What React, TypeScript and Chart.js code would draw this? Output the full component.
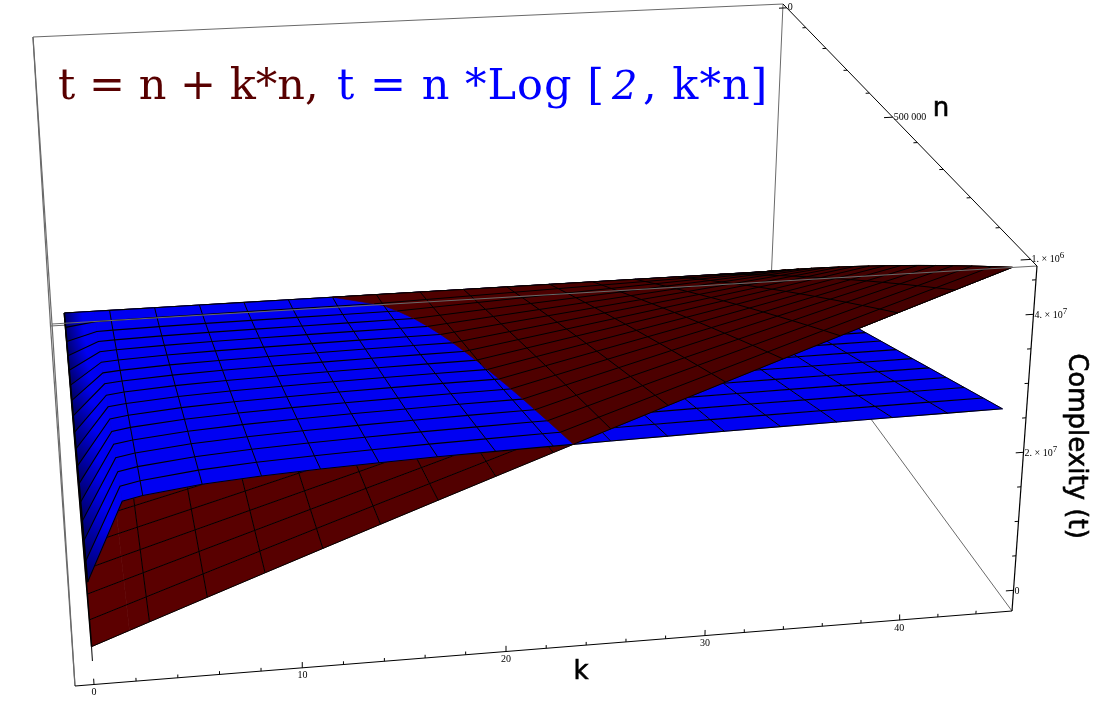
import React, { useEffect, useRef } from "react";
import { Chart, registerables } from "chart.js";

Chart.register(...registerables);

// ---- data (t in millions, n in millions) ----
const kGrid = [0.001, 1.84, 2.8125, 5.625, 8.4375, 11.25, 14.0625, 16.875, 19.6875, 22.5, 25.3125, 28.125, 30.9375, 33.75, 36.5625, 39.375, 42.1875, 45];
const nGrid = [0, 0.0625, 0.125, 0.1875, 0.25, 0.3125, 0.375, 0.4375, 0.5, 0.5625, 0.625, 0.6875, 0.75, 0.8125, 0.875, 0.9375, 1];

const redT = [
  [0, 0, 0, 0, 0, 0, 0, 0, 0, 0, 0, 0, 0, 0, 0, 0, 0, 0],
  [0.063, 0.178, 0.238, 0.414, 0.59, 0.766, 0.941, 1.117, 1.293, 1.469, 1.645, 1.82, 1.996, 2.172, 2.348, 2.523, 2.699, 2.875],
  [0.125, 0.355, 0.477, 0.828, 1.18, 1.531, 1.883, 2.234, 2.586, 2.938, 3.289, 3.641, 3.992, 4.344, 4.695, 5.047, 5.398, 5.75],
  [0.188, 0.533, 0.715, 1.242, 1.77, 2.297, 2.824, 3.352, 3.879, 4.406, 4.934, 5.461, 5.988, 6.516, 7.043, 7.57, 8.098, 8.625],
  [0.25, 0.71, 0.953, 1.656, 2.359, 3.063, 3.766, 4.469, 5.172, 5.875, 6.578, 7.281, 7.984, 8.688, 9.391, 10.094, 10.797, 11.5],
  [0.313, 0.888, 1.191, 2.07, 2.949, 3.828, 4.707, 5.586, 6.465, 7.344, 8.223, 9.102, 9.98, 10.859, 11.738, 12.617, 13.496, 14.375],
  [0.375, 1.065, 1.43, 2.484, 3.539, 4.594, 5.648, 6.703, 7.758, 8.813, 9.867, 10.922, 11.977, 13.031, 14.086, 15.141, 16.195, 17.25],
  [0.438, 1.243, 1.668, 2.898, 4.129, 5.359, 6.59, 7.82, 9.051, 10.281, 11.512, 12.742, 13.973, 15.203, 16.434, 17.664, 18.895, 20.125],
  [0.5, 1.42, 1.906, 3.313, 4.719, 6.125, 7.531, 8.938, 10.344, 11.75, 13.156, 14.563, 15.969, 17.375, 18.781, 20.188, 21.594, 23],
  [0.563, 1.598, 2.145, 3.727, 5.309, 6.891, 8.473, 10.055, 11.637, 13.219, 14.801, 16.383, 17.965, 19.547, 21.129, 22.711, 24.293, 25.875],
  [0.625, 1.775, 2.383, 4.141, 5.898, 7.656, 9.414, 11.172, 12.93, 14.688, 16.445, 18.203, 19.961, 21.719, 23.477, 25.234, 26.992, 28.75],
  [0.688, 1.953, 2.621, 4.555, 6.488, 8.422, 10.355, 12.289, 14.223, 16.156, 18.09, 20.023, 21.957, 23.891, 25.824, 27.758, 29.691, 31.625],
  [0.75, 2.13, 2.859, 4.969, 7.078, 9.188, 11.297, 13.406, 15.516, 17.625, 19.734, 21.844, 23.953, 26.063, 28.172, 30.281, 32.391, 34.5],
  [0.813, 2.308, 3.098, 5.383, 7.668, 9.953, 12.238, 14.523, 16.809, 19.094, 21.379, 23.664, 25.949, 28.234, 30.52, 32.805, 35.09, 37.375],
  [0.875, 2.485, 3.336, 5.797, 8.258, 10.719, 13.18, 15.641, 18.102, 20.563, 23.023, 25.484, 27.945, 30.406, 32.867, 35.328, 37.789, 40.25],
  [0.938, 2.663, 3.574, 6.211, 8.848, 11.484, 14.121, 16.758, 19.395, 22.031, 24.668, 27.305, 29.941, 32.578, 35.215, 37.852, 40.488, 43.125],
  [1, 2.84, 3.813, 6.625, 9.438, 12.25, 15.063, 17.875, 20.688, 23.5, 26.313, 29.125, 31.938, 34.75, 37.563, 40.375, 43.188, 46],
];

const blueT = [
  [0.001, 0.001, 0.001, 0.001, 0.001, 0.001, 0.001, 0, 0, 0, 0, 0, 0, 0, 0, 0, 0, 0],
  [0.373, 1.051, 1.089, 1.151, 1.188, 1.214, 1.234, 1.251, 1.264, 1.276, 1.287, 1.296, 1.305, 1.313, 1.32, 1.327, 1.333, 1.339],
  [0.87, 2.226, 2.303, 2.428, 2.501, 2.553, 2.593, 2.626, 2.654, 2.678, 2.699, 2.718, 2.735, 2.751, 2.765, 2.779, 2.791, 2.803],
  [1.416, 3.45, 3.564, 3.752, 3.863, 3.939, 3.999, 4.05, 4.091, 4.127, 4.159, 4.187, 4.213, 4.238, 4.258, 4.279, 4.298, 4.314],
  [1.99, 4.703, 4.855, 5.105, 5.253, 5.355, 5.435, 5.503, 5.558, 5.605, 5.648, 5.685, 5.72, 5.753, 5.78, 5.808, 5.833, 5.855],
  [2.588, 5.978, 6.169, 6.481, 6.666, 6.794, 6.894, 6.978, 7.047, 7.106, 7.159, 7.206, 7.25, 7.291, 7.325, 7.359, 7.391, 7.419],
  [3.206, 7.275, 7.504, 7.879, 8.1, 8.254, 8.374, 8.475, 8.558, 8.629, 8.693, 8.749, 8.801, 8.85, 8.891, 8.933, 8.97, 9.004],
  [3.837, 8.584, 8.851, 9.288, 9.546, 9.726, 9.866, 9.984, 10.08, 10.163, 10.238, 10.303, 10.364, 10.421, 10.469, 10.518, 10.561, 10.601],
  [4.48, 9.905, 10.21, 10.71, 11.005, 11.21, 11.37, 11.505, 11.615, 11.71, 11.795, 11.87, 11.94, 12.005, 12.06, 12.115, 12.165, 12.21],
  [5.136, 11.239, 11.582, 12.144, 12.476, 12.707, 12.887, 13.039, 13.163, 13.269, 13.365, 13.449, 13.528, 13.601, 13.663, 13.725, 13.781, 13.832],
  [5.8, 12.581, 12.963, 13.588, 13.956, 14.213, 14.413, 14.581, 14.719, 14.838, 14.944, 15.038, 15.125, 15.206, 15.275, 15.344, 15.406, 15.463],
  [6.476, 13.936, 14.355, 15.043, 15.448, 15.73, 15.95, 16.136, 16.287, 16.418, 16.534, 16.638, 16.734, 16.823, 16.899, 16.974, 17.043, 17.105],
  [7.163, 15.3, 15.758, 16.508, 16.95, 17.258, 17.498, 17.7, 17.865, 18.008, 18.135, 18.248, 18.353, 18.45, 18.533, 18.615, 18.69, 18.758],
  [7.849, 16.664, 17.16, 17.973, 18.452, 18.785, 19.045, 19.264, 19.443, 19.598, 19.736, 19.858, 19.971, 20.077, 20.166, 20.256, 20.337, 20.41],
  [8.549, 18.043, 18.576, 19.451, 19.968, 20.326, 20.606, 20.843, 21.035, 21.201, 21.35, 21.481, 21.604, 21.718, 21.814, 21.91, 21.998, 22.076],
  [9.253, 19.425, 19.997, 20.934, 21.488, 21.872, 22.172, 22.425, 22.631, 22.809, 22.969, 23.109, 23.241, 23.363, 23.466, 23.569, 23.663, 23.747],
  [9.96, 20.81, 21.42, 22.42, 23.01, 23.42, 23.74, 24.01, 24.23, 24.42, 24.59, 24.74, 24.88, 25.01, 25.12, 25.23, 25.33, 25.42],
];

const kMajorTicks = [0, 10, 20, 30, 40];
const kMinorTicks = [2, 4, 6, 8, 12, 14, 16, 18, 22, 24, 26, 28, 32, 34, 36, 38, 42, 44];
const nMajorTicks = [0, 0.5, 1];
const nMajorLabels = [["0", ""], ["500 000", ""], ["1. × 10", "6"]];
const nMinorTicks = [0.1, 0.2, 0.3, 0.4, 0.6, 0.7, 0.8, 0.9];
const tMajorTicks = [0, 20, 40];
const tMajorLabels = [["0", ""], ["2. × 10", "7"], ["4. × 10", "7"]];
const tMinorTicks = [5, 10, 15, 25, 30, 35, 45];

// box extents in data units
const kRange = [-0.9, 45.9];
const nRange = [-0.02, 1.02];
const tRange = [-3, 47];

// camera calibration: pixel position of the box corners
const floorCorners = [[50.5, 326], [771, 283], [1012, 611], [75, 686]];
const ceilCorners = [[33, 37], [783, 4], [1037, 266], [52, 324]];

function planeMap(q: number[][]) {
  const [[x0, y0], [x1, y1], [x2, y2], [x3, y3]] = q;
  const sx = x0 - x1 + x2 - x3, sy = y0 - y1 + y2 - y3;
  const dx1 = x1 - x2, dx2 = x3 - x2, dy1 = y1 - y2, dy2 = y3 - y2;
  const det = dx1 * dy2 - dx2 * dy1;
  const g = (sx * dy2 - dx2 * sy) / det, h = (dx1 * sy - sx * dy1) / det;
  const a = x1 - x0 + g * x1, b = x3 - x0 + h * x3, d = y1 - y0 + g * y1, e = y3 - y0 + h * y3;
  return (u: number, v: number) => {
    const w = g * u + h * v + 1;
    return [(a * u + b * v + x0) / w, (d * u + e * v + y0) / w];
  };
}
const floorMap = planeMap(floorCorners);
const ceilMap = planeMap(ceilCorners);

function project(k: number, n: number, t: number) {
  const u = (k - kRange[0]) / (kRange[1] - kRange[0]);
  const v = (n - nRange[0]) / (nRange[1] - nRange[0]);
  const w = (t - tRange[0]) / (tRange[1] - tRange[0]);
  const p = floorMap(u, v), q = ceilMap(u, v);
  return { x: p[0] + (q[0] - p[0]) * w, y: p[1] + (q[1] - p[1]) * w };
}

type V = { k: number; n: number; t: number; d: number };
const vert = (table: number[][], i: number, c: number): V => ({
  k: kGrid[c], n: nGrid[i], t: table[i][c], d: redT[i][c] - blueT[i][c],
});
const mix = (a: V, b: V): V => {
  const s = a.d / (a.d - b.d);
  return { k: a.k + (b.k - a.k) * s, n: a.n + (b.n - a.n) * s, t: a.t + (b.t - a.t) * s, d: 0 };
};
function clipQuad(poly: V[]) {
  const out: V[] = [];
  poly.forEach((a, i) => {
    const b = poly[(i + 1) % poly.length];
    if (a.d >= 0) out.push(a);
    if ((a.d >= 0) !== (b.d >= 0)) out.push(mix(a, b));
  });
  return out;
}
function clipRun(line: V[]) {
  const runs: V[][] = [];
  let cur: V[] = [];
  line.forEach((a, i) => {
    if (a.d >= 0) cur.push(a);
    const b = line[i + 1];
    if (b && (a.d >= 0) !== (b.d >= 0)) {
      const m = mix(a, b);
      cur.push(m);
      if (a.d >= 0) { runs.push(cur); cur = []; }
    }
  });
  if (cur.length > 1) runs.push(cur);
  return runs.filter((r) => r.length > 1);
}

const lerpRed = (k: number) => `rgb(${Math.round(92 - (k / 45) * 26)},0,0)`;
const BLUE = "#0000f2";
const GRAY = "#6a6a6a";

function buildDatasets() {
  const list: any[] = [];
  const addPoly = (vs: V[], fillColor: any) =>
    list.push({ data: vs.map((v) => project(v.k, v.n, v.t)), polyFill: fillColor, borderWidth: 0 });
  const addLine = (pts: { x: number; y: number }[], color: string, width: number) =>
    list.push({ data: pts, borderColor: color, borderWidth: width });
  const addMesh = (vs: V[], width: number) => addLine(vs.map((v) => project(v.k, v.n, v.t)), "#000", width);
  const box = (k: number, n: number, t: number) => project(k, n, t);
  const [k0, k1] = kRange, [n0, n1] = nRange, [t0, t1] = tRange;

  // hidden back edges of the box
  addLine([box(k1, n0, t1), box(k1, n0, t0)], GRAY, 1);
  addLine([box(k1, n0, t0), box(k1, n1, t0)], GRAY, 1);
  addLine([box(k0, n0, t0), box(k1, n0, t0)], GRAY, 1);

  const surface = (table: number[][], colorOf: (c: number) => any, rowWidth: number, colWidth: number) => {
    for (let i = 0; i < nGrid.length - 1; i++)
      for (let c = 0; c < kGrid.length - 1; c++)
        addPoly([vert(table, i, c), vert(table, i, c + 1), vert(table, i + 1, c + 1), vert(table, i + 1, c)], colorOf(c));
    nGrid.forEach((_, i) => addMesh(kGrid.map((_, c) => vert(table, i, c)), rowWidth));
    kGrid.forEach((_, c) => {
      if (c !== 1) addMesh(nGrid.map((_, i) => vert(table, i, c)), c === 0 ? 1.6 : colWidth);
    });
  };

  // red surface, whole, at the bottom
  surface(redT, (c) => lerpRed(kGrid[c]), 1, 1);
  // tail of the left wall below the red corner
  addLine([project(kGrid[0], 1, 1), project(kGrid[0], 1, -1)], "#000", 1);
  // blue surface over it
  surface(blueT, (c) => (c === 0 ? ["#00006e", "#0000f2"] : BLUE), 1.1, 1);

  // red again where it lies above the blue surface
  for (let i = 0; i < nGrid.length - 1; i++)
    for (let c = 0; c < kGrid.length - 1; c++) {
      const poly = clipQuad([vert(redT, i, c), vert(redT, i, c + 1), vert(redT, i + 1, c + 1), vert(redT, i + 1, c)]);
      if (poly.length >= 3) addPoly(poly, lerpRed(kGrid[c]));
    }
  nGrid.forEach((_, i) => clipRun(kGrid.map((_, c) => vert(redT, i, c))).forEach((r) => addMesh(r, 1)));
  kGrid.forEach((_, c) => {
    if (c !== 1) clipRun(nGrid.map((_, i) => vert(redT, i, c))).forEach((r) => addMesh(r, 1));
  });

  // front box edges
  addLine([box(k0, n0, t1), box(k1, n0, t1)], GRAY, 1.2);
  addLine([box(k0, n0, t1), box(k0, n1, t1)], GRAY, 1.2);
  addLine([box(k0, n0, t1), box(k0, n0, t0)], GRAY, 1.2);
  addLine([box(k0, n0, t0), box(k0, n1, t0)], GRAY, 1.2);
  addLine([box(k0, n1, t1), box(k0, n1, t0)], GRAY, 1.2);
  addLine([box(k0, n1, t1), box(k1, n1, t1)], GRAY, 1.2);

  // axes
  addLine([box(k0, n1, t0), box(k1, n1, t0)], "#000", 1.2);
  addLine([box(k1, n1, t0), box(k1, n1, t1)], "#000", 1.2);
  addLine([box(k1, n0, t1), box(k1, n1, t1)], "#000", 1);

  kMajorTicks.forEach((k) => addLine([box(k, n1, t0), box(k, n1, t0 + 0.8)], "#000", 1));
  kMinorTicks.forEach((k) => addLine([box(k, n1, t0), box(k, n1, t0 + 0.45)], "#000", 1));
  nMajorTicks.forEach((n) => addLine([box(k1, n, t1), box(k1 - 0.5, n, t1)], "#000", 1));
  nMinorTicks.forEach((n) => addLine([box(k1, n, t1), box(k1 - 0.22, n, t1)], "#000", 1));
  tMajorTicks.forEach((t) => addLine([box(k1, n1, t), box(k1 - 0.4, n1, t)], "#000", 1));
  tMinorTicks.forEach((t) => addLine([box(k1, n1, t), box(k1 - 0.2, n1, t)], "#000", 1));

  return list.map((d, i) => ({
    ...d,
    order: -i,
    showLine: true,
    fill: false,
    pointRadius: 0,
    tension: 0,
    clip: false,
  }));
}

const polygonPlugin = {
  id: "polygonFill",
  beforeDatasetDraw(chart: any, args: any) {
    const ds = chart.data.datasets[args.index];
    if (!ds.polyFill) return;
    const pts = args.meta.data;
    const ctx = chart.ctx;
    let style = ds.polyFill;
    if (Array.isArray(style)) {
      const g = ctx.createLinearGradient(
        (pts[0].x + pts[3].x) / 2, (pts[0].y + pts[3].y) / 2,
        (pts[1].x + pts[2].x) / 2, (pts[1].y + pts[2].y) / 2,
      );
      g.addColorStop(0, style[0]);
      g.addColorStop(0.6, style[1]);
      g.addColorStop(1, style[1]);
      style = g;
    }
    ctx.save();
    ctx.beginPath();
    pts.forEach((p: any, i: number) => (i ? ctx.lineTo(p.x, p.y) : ctx.moveTo(p.x, p.y)));
    ctx.closePath();
    ctx.fillStyle = style;
    ctx.strokeStyle = style;
    ctx.lineWidth = 0.7;
    ctx.fill();
    ctx.stroke();
    ctx.restore();
  },
};

const textPlugin = {
  id: "plotText",
  afterDraw(chart: any) {
    const ctx = chart.ctx;
    const [, k1] = kRange, [, n1] = nRange, [t0, t1] = tRange;
    ctx.save();
    ctx.textBaseline = "alphabetic";
    const titleFont = '43px "DejaVu Serif"';
    const put = (s: string, x: number, color: string, font = titleFont, spacing = "1px") => {
      ctx.font = font;
      ctx.fillStyle = color;
      (ctx as any).letterSpacing = spacing;
      ctx.fillText(s, x, 99);
    };
    put("t = n + k*n,", 58, "#580000", titleFont, "0px");
    put("t = n *Log [", 337, "#0000ff");
    put("2", 612, "#0000ff", 'italic 40px "DejaVu Serif"');
    put(", k*n]", 643, "#0000ff");
    (ctx as any).letterSpacing = "0px";

    ctx.fillStyle = "#000";
    ctx.font = '10px "Liberation Serif"';
    ctx.textAlign = "center";
    ctx.textBaseline = "middle";
    kMajorTicks.forEach((k) => {
      const p = project(k, n1, t0);
      ctx.fillText(String(k), p.x, p.y + 8);
    });
    ctx.textAlign = "left";
    const labelled = (parts: string[], x: number, y: number) => {
      ctx.font = '10px "Liberation Serif"';
      ctx.fillText(parts[0], x, y);
      if (parts[1]) {
        const w = ctx.measureText(parts[0]).width;
        ctx.font = '9px "Liberation Serif"';
        ctx.fillText(parts[1], x + w, y - 4);
      }
    };
    nMajorTicks.forEach((n, i) => {
      const p = project(k1, n, t1);
      labelled(nMajorLabels[i], p.x + 1, p.y);
    });
    tMajorTicks.forEach((t, i) => {
      const p = project(k1, n1, t);
      labelled(tMajorLabels[i], p.x + 1, p.y + 1);
    });

    ctx.font = '26px "DejaVu Sans"';
    ctx.strokeStyle = "#000";
    ctx.lineWidth = 0.6;
    ctx.textAlign = "center";
    const bold = (s: string, x: number, y: number) => {
      ctx.fillText(s, x, y);
      ctx.strokeText(s, x, y);
    };
    bold("k", 581, 672);
    bold("n", 941, 109);
    ctx.translate(1076, 446);
    ctx.rotate(Math.PI / 2);
    bold("Complexity (t)", 0, 0);
    ctx.restore();
  },
};

export default function App() {
  const ref = useRef<HTMLCanvasElement>(null);
  useEffect(() => {
    const chart = new Chart(ref.current as HTMLCanvasElement, {
      type: "scatter",
      data: { datasets: buildDatasets() as any },
      options: {
        animation: false,
        responsive: false,
        events: [],
        layout: { padding: 0 },
        plugins: { legend: { display: false }, tooltip: { enabled: false }, title: { display: false } },
        scales: {
          x: { type: "linear", min: 0, max: 1100, display: false },
          y: { type: "linear", min: 0, max: 702, reverse: true, display: false },
        },
      },
      plugins: [polygonPlugin, textPlugin],
    } as any);
    return () => chart.destroy();
  }, []);
  return (
    <canvas
      ref={ref}
      width={1100}
      height={702}
      style={{ position: "fixed", left: 0, top: 0, width: 1100, height: 702, background: "#fff" }}
    />
  );
}
